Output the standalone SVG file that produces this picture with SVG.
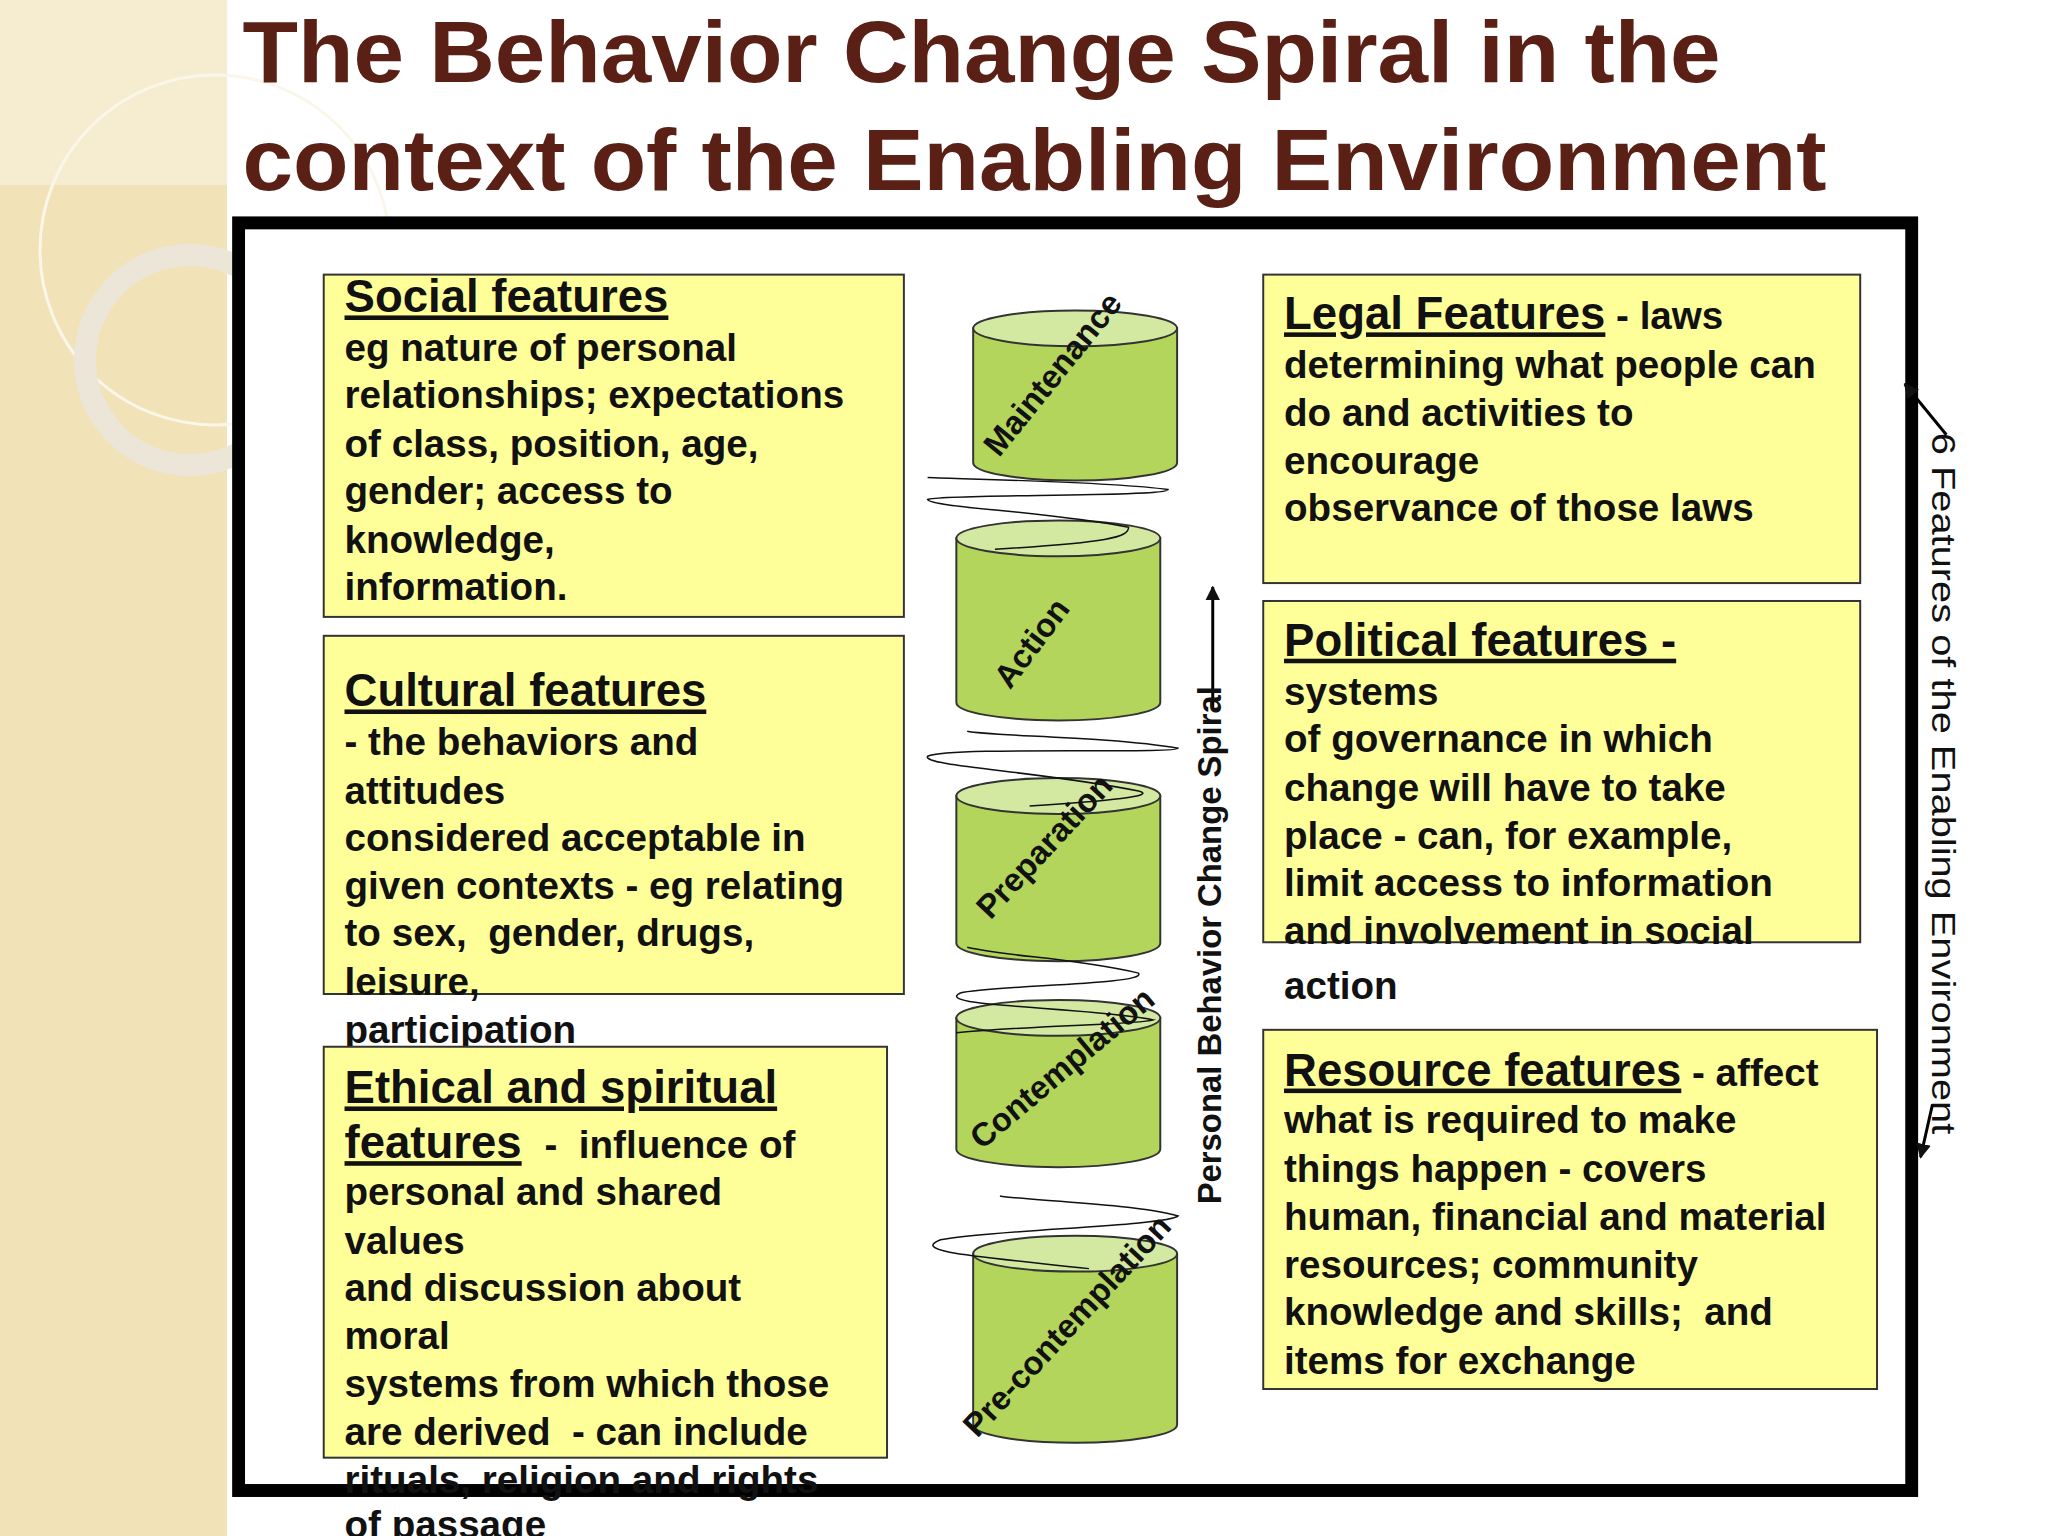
<svg xmlns="http://www.w3.org/2000/svg" width="2048" height="1536" viewBox="0 0 2048 1536">
<style>
.box{fill:#ffff99;stroke:#333;stroke-width:2}
.t{font-family:"Liberation Sans",Arial,sans-serif;font-weight:bold;font-size:39px;fill:#111}
.h{font-size:46px;text-decoration:underline}
.cyl{fill:#b3d55b;stroke:#333;stroke-width:2}
.top{fill:#d3e8a0;stroke:#333;stroke-width:2}
.lbl{font-family:"Liberation Sans",Arial,sans-serif;font-weight:bold;font-size:33px;fill:#111;text-anchor:middle}
.sp{fill:none;stroke:#111;stroke-width:1.5}
</style>
<defs>
<marker id="ah" viewBox="0 0 10 10" refX="9" refY="5" markerWidth="5" markerHeight="5" orient="auto"><path d="M0,0L10,5L0,10z" fill="#111"/></marker>
</defs>
<rect width="2048" height="1536" fill="#fff"/>
<g id="bg">
<rect x="0" y="0" width="227" height="1536" fill="#f1e2b8"/>
<rect x="0" y="0" width="227" height="185" fill="#f6ecd0"/>
<circle cx="215" cy="250" r="175" fill="none" stroke="#fbf6ea" stroke-width="3"/>
<circle cx="190" cy="360" r="105" fill="none" stroke="#ece6d8" stroke-width="22"/>
</g>
<g transform="scale(0.99,0.995)">
<g id="title" font-family="'Liberation Sans',Arial,sans-serif" font-weight="bold" font-size="88" fill="#5a2015">
<text x="245" y="82" textLength="1493" lengthAdjust="spacingAndGlyphs">The Behavior Change Spiral in the</text>
<text x="245" y="191" textLength="1600" lengthAdjust="spacingAndGlyphs">context of the Enabling Environment</text>
</g>
<rect id="frame" x="241" y="224" width="1690" height="1274" fill="#fff" stroke="#000" stroke-width="13"/>
<g id="social"><rect class="box" x="327" y="276" width="586" height="344"/>
<text class="t"><tspan class="h" x="348" y="314">Social features</tspan><tspan x="348" y="363">eg nature of personal</tspan><tspan x="348" y="410">relationships; expectations</tspan><tspan x="348" y="459">of class, position, age,</tspan><tspan x="348" y="507">gender; access to</tspan><tspan x="348" y="556">knowledge,</tspan><tspan x="348" y="603">information.</tspan></text></g>
<g id="cultural"><rect class="box" x="327" y="639" width="586" height="360"/>
<text class="t"><tspan class="h" x="348" y="710">Cultural features</tspan><tspan x="348" y="759">- the behaviors and</tspan><tspan x="348" y="808">attitudes</tspan><tspan x="348" y="855">considered acceptable in</tspan><tspan x="348" y="904">given contexts - eg relating</tspan><tspan x="348" y="951" xml:space="preserve">to sex,  gender, drugs,</tspan><tspan x="348" y="1000">leisure,</tspan><tspan x="348" y="1048">participation</tspan></text></g>
<g id="ethical"><rect class="box" x="327" y="1052" width="569" height="413"/>
<text class="t"><tspan class="h" x="348" y="1109">Ethical and spiritual</tspan><tspan class="h" x="348" y="1164">features</tspan><tspan x="550" y="1164" xml:space="preserve">-  influence of</tspan><tspan x="348" y="1211">personal and shared</tspan><tspan x="348" y="1260">values</tspan><tspan x="348" y="1308">and discussion about</tspan><tspan x="348" y="1356">moral</tspan><tspan x="348" y="1404">systems from which those</tspan><tspan x="348" y="1452" xml:space="preserve">are derived  - can include</tspan><tspan x="348" y="1501">rituals, religion and rights</tspan><tspan x="348" y="1546">of passage</tspan></text></g>
<g id="legal"><rect class="box" x="1276" y="276" width="603" height="310"/>
<text class="t"><tspan class="h" x="1297" y="331">Legal Features</tspan><tspan> - laws</tspan><tspan x="1297" y="380">determining what people can</tspan><tspan x="1297" y="428">do and activities to</tspan><tspan x="1297" y="476">encourage</tspan><tspan x="1297" y="524">observance of those laws</tspan></text></g>
<g id="political"><rect class="box" x="1276" y="604" width="603" height="343"/>
<text class="t"><tspan class="h" x="1297" y="659">Political features -</tspan><tspan x="1297" y="709">systems</tspan><tspan x="1297" y="756">of governance in which</tspan><tspan x="1297" y="805">change will have to take</tspan><tspan x="1297" y="853">place - can, for example,</tspan><tspan x="1297" y="901">limit access to information</tspan><tspan x="1297" y="949">and involvement in social</tspan><tspan x="1297" y="1004">action</tspan></text></g>
<g id="resource"><rect class="box" x="1276" y="1035" width="620" height="361"/>
<text class="t"><tspan class="h" x="1297" y="1091">Resource features</tspan><tspan> - affect</tspan><tspan x="1297" y="1139">what is required to make</tspan><tspan x="1297" y="1188">things happen - covers</tspan><tspan x="1297" y="1236">human, financial and material</tspan><tspan x="1297" y="1284">resources; community</tspan><tspan x="1297" y="1332" xml:space="preserve">knowledge and skills;  and</tspan><tspan x="1297" y="1381">items for exchange</tspan></text></g>
<g id="precontemplation"><path class="cyl" d="M983,1260V1432A103,18 0 0 0 1189,1432V1260z"/><ellipse class="top" cx="1086" cy="1260" rx="103" ry="18"/><text class="lbl" transform="translate(1086,1340) rotate(-47)">Pre-contemplation</text></g>
<g id="contemplation"><path class="cyl" d="M966,1023V1155A103,18 0 0 0 1172,1155V1023z"/><ellipse class="top" cx="1069" cy="1023" rx="103" ry="18"/><text class="lbl" transform="translate(1080,1082) rotate(-40)">Contemplation</text></g>
<g id="preparation"><path class="cyl" d="M966,800V948A103,18 0 0 0 1172,948V800z"/><ellipse class="top" cx="1069" cy="800" rx="103" ry="18"/><text class="lbl" transform="translate(1063,858) rotate(-47)">Preparation</text></g>
<g id="action"><path class="cyl" d="M966,541V706A103,18 0 0 0 1172,706V541z"/><ellipse class="top" cx="1069" cy="541" rx="103" ry="18"/><text class="lbl" transform="translate(1051,653) rotate(-53)">Action</text></g>
<g id="maintenance"><path class="cyl" d="M983,330V465A103,18 0 0 0 1189,465V330z"/><ellipse class="top" cx="1086" cy="330" rx="103" ry="18"/><text class="lbl" transform="translate(1072,383) rotate(-51)">Maintenance</text></g>
<g id="connectors">
<path class="sp" d="M1100,1275 C980,1262 920,1258 950,1246 C1000,1236 1180,1232 1190,1222 C1150,1210 1030,1206 1010,1202"/>
<path class="sp" d="M966,1038 C1050,1030 1150,1030 1165,1025 C1100,1012 940,1012 970,998 C1000,990 1160,990 1150,978 C1080,962 1020,962 977,952"/>
<path class="sp" d="M1040,810 C1120,805 1170,800 1150,795 C1050,775 930,770 937,760 C960,750 1190,758 1190,752 C1120,740 1000,740 977,735"/>
<path class="sp" d="M1005,552 C1120,545 1140,540 1140,530 C1060,514 940,510 937,502 C950,496 1180,500 1180,492 C1120,484 990,482 937,480"/>
</g>
<g id="arrow">
<line x1="1225" y1="713" x2="1225" y2="590" stroke="#000" stroke-width="3" marker-end="url(#ah)"/>
<text class="lbl" transform="translate(1233,950) rotate(-90)">Personal Behavior Change Spiral</text>
</g>
<g id="side">
<text transform="translate(1952,435) rotate(90)" font-family="'Liberation Sans',Arial,sans-serif" font-size="34" fill="#111" textLength="705" lengthAdjust="spacingAndGlyphs">6 Features of the Enabling Environment</text>
<line x1="1966" y1="437" x2="1924" y2="386" stroke="#000" stroke-width="3" marker-end="url(#ah)"/>
<line x1="1952" y1="1110" x2="1940" y2="1163" stroke="#000" stroke-width="3" marker-end="url(#ah)"/>
</g>
</g>
</svg>
